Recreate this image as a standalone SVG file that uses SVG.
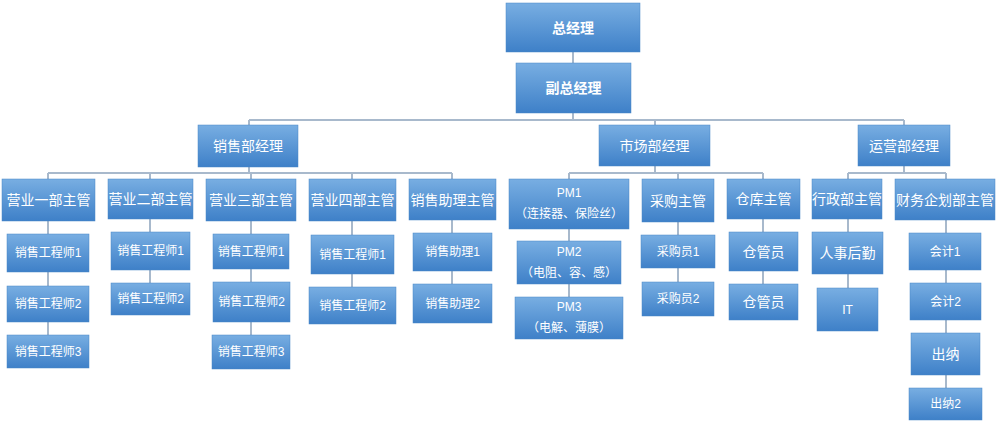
<svg xmlns="http://www.w3.org/2000/svg" width="997" height="426" viewBox="0 0 997 426">
<defs>
<linearGradient id="g" x1="0" y1="0" x2="0" y2="1">
<stop offset="0" stop-color="#78aee2"/>
<stop offset="1" stop-color="#3e80c8"/>
</linearGradient>
<style>
rect{fill:url(#g);stroke:#4a86c5;stroke-width:0.5}
text{fill:#fff;font-family:"Liberation Sans","Noto Sans CJK SC",sans-serif;font-size:14px;text-anchor:middle;dominant-baseline:central}
.b{font-weight:bold}
.s{font-size:12px}
#c path{fill:none;stroke:#a8b9cc;stroke-width:2}
</style>
</defs>
<rect x="0" y="0" width="997" height="426" style="fill:#fff;stroke:none"/>
<g id="c">
<path d="M573 52V63M573 113V120M249 120H904M249 120V125M655 120V125M904 120V125"/>
<path d="M249 167V173M48 173H452M48 173V179M150 173V179M251 173V179M352 173V179M452 173V179"/>
<path d="M48 221V335M150 219V283M251 221V335M352 221V287M452 220V284"/>
<path d="M655 166V173M569 173H763M569 173V179M678 173V179M763 173V179M569 229V297M678 222V282M763 219V284"/>
<path d="M904 166V173M848 173H946M848 173V179M946 173V179M848 219V288M946 220V388"/>
</g>
<g id="n1"><rect x="506" y="3" width="134" height="49"/><text class="b" x="573" y="27.5">总经理</text></g>
<g id="n2"><rect x="516" y="63" width="115" height="50"/><text class="b" x="573.5" y="88">副总经理</text></g>
<g id="n3"><rect x="198" y="125" width="100" height="42"/><text x="248" y="146">销售部经理</text></g>
<g id="n4"><rect x="599" y="125" width="111" height="41"/><text x="654.5" y="145.5">市场部经理</text></g>
<g id="n5"><rect x="858" y="125" width="92" height="41"/><text x="904" y="145.5">运营部经理</text></g>
<g id="s1"><rect x="2" y="179" width="93" height="42"/><text x="48.5" y="200">营业一部主管</text></g>
<g id="s2"><rect x="108" y="179" width="85" height="40"/><text x="150.5" y="199">营业二部主管</text></g>
<g id="s3"><rect x="206" y="179" width="90" height="42"/><text x="251" y="200">营业三部主管</text></g>
<g id="s4"><rect x="309" y="179" width="87" height="42"/><text x="352.5" y="200">营业四部主管</text></g>
<g id="s5"><rect x="409" y="179" width="87" height="41"/><text x="452.5" y="199.5">销售助理主管</text></g>
<g id="s1a"><rect x="7" y="234" width="82" height="38"/><text class="s" x="48" y="253">销售工程师1</text></g>
<g id="s1b"><rect x="7" y="286" width="82" height="36"/><text class="s" x="48" y="304">销售工程师2</text></g>
<g id="s1c"><rect x="7" y="335" width="82" height="33"/><text class="s" x="48" y="351.5">销售工程师3</text></g>
<g id="s2a"><rect x="111" y="232" width="79" height="38"/><text class="s" x="150.5" y="251">销售工程师1</text></g>
<g id="s2b"><rect x="111" y="283" width="79" height="32"/><text class="s" x="150.5" y="299">销售工程师2</text></g>
<g id="s3a"><rect x="213" y="234" width="76" height="35"/><text class="s" x="251" y="251.5">销售工程师1</text></g>
<g id="s3b"><rect x="213" y="282" width="77" height="40"/><text class="s" x="251.5" y="302">销售工程师2</text></g>
<g id="s3c"><rect x="212" y="335" width="78" height="34"/><text class="s" x="251" y="352">销售工程师3</text></g>
<g id="s4a"><rect x="311" y="235" width="83" height="39"/><text class="s" x="352.5" y="254.5">销售工程师1</text></g>
<g id="s4b"><rect x="309" y="287" width="87" height="37"/><text class="s" x="352.5" y="305.5">销售工程师2</text></g>
<g id="s5a"><rect x="413" y="233" width="79" height="38"/><text class="s" x="452.5" y="252">销售助理1</text></g>
<g id="s5b"><rect x="413" y="284" width="79" height="39"/><text class="s" x="452.5" y="303.5">销售助理2</text></g>
<g id="m1"><rect x="509" y="179" width="120" height="50"/><text class="s" x="569" y="193">PM1</text><text class="s" x="569" y="214">（连接器、保险丝）</text></g>
<g id="m2"><rect x="517" y="241" width="104" height="43"/><text class="s" x="569" y="252">PM2</text><text class="s" x="569" y="273">（电阻、容、感）</text></g>
<g id="m3"><rect x="515" y="297" width="108" height="42"/><text class="s" x="569" y="307">PM3</text><text class="s" x="569" y="328">（电解、薄膜）</text></g>
<g id="p0"><rect x="642" y="179" width="72" height="43"/><text x="678" y="200.5">采购主管</text></g>
<g id="p1"><rect x="641" y="235" width="74" height="33"/><text class="s" x="678" y="251.5">采购员1</text></g>
<g id="p2"><rect x="642" y="282" width="72" height="34"/><text class="s" x="678" y="299">采购员2</text></g>
<g id="w0"><rect x="727" y="179" width="73" height="40"/><text x="763.5" y="199">仓库主管</text></g>
<g id="w1"><rect x="729" y="232" width="69" height="39"/><text x="763.5" y="251.5">仓管员</text></g>
<g id="w2"><rect x="729" y="284" width="69" height="36"/><text x="763.5" y="302">仓管员</text></g>
<g id="o1"><rect x="812" y="179" width="70" height="40"/><text x="847" y="199">行政部主管</text></g>
<g id="o1a"><rect x="812" y="232" width="71" height="42"/><text x="847.5" y="253">人事后勤</text></g>
<g id="o1b"><rect x="817" y="288" width="61" height="43"/><text class="s" x="847.5" y="309.5">IT</text></g>
<g id="o2"><rect x="895" y="179" width="100" height="41"/><text x="945" y="199.5">财务企划部主管</text></g>
<g id="o2a"><rect x="909" y="233" width="72" height="37"/><text class="s" x="945" y="251.5">会计1</text></g>
<g id="o2b"><rect x="910" y="283" width="71" height="37"/><text class="s" x="945.5" y="301.5">会计2</text></g>
<g id="o2c"><rect x="911" y="333" width="69" height="42"/><text x="945.5" y="354">出纳</text></g>
<g id="o2d"><rect x="909" y="388" width="73" height="32"/><text class="s" x="945.5" y="404">出纳2</text></g>
</svg>
